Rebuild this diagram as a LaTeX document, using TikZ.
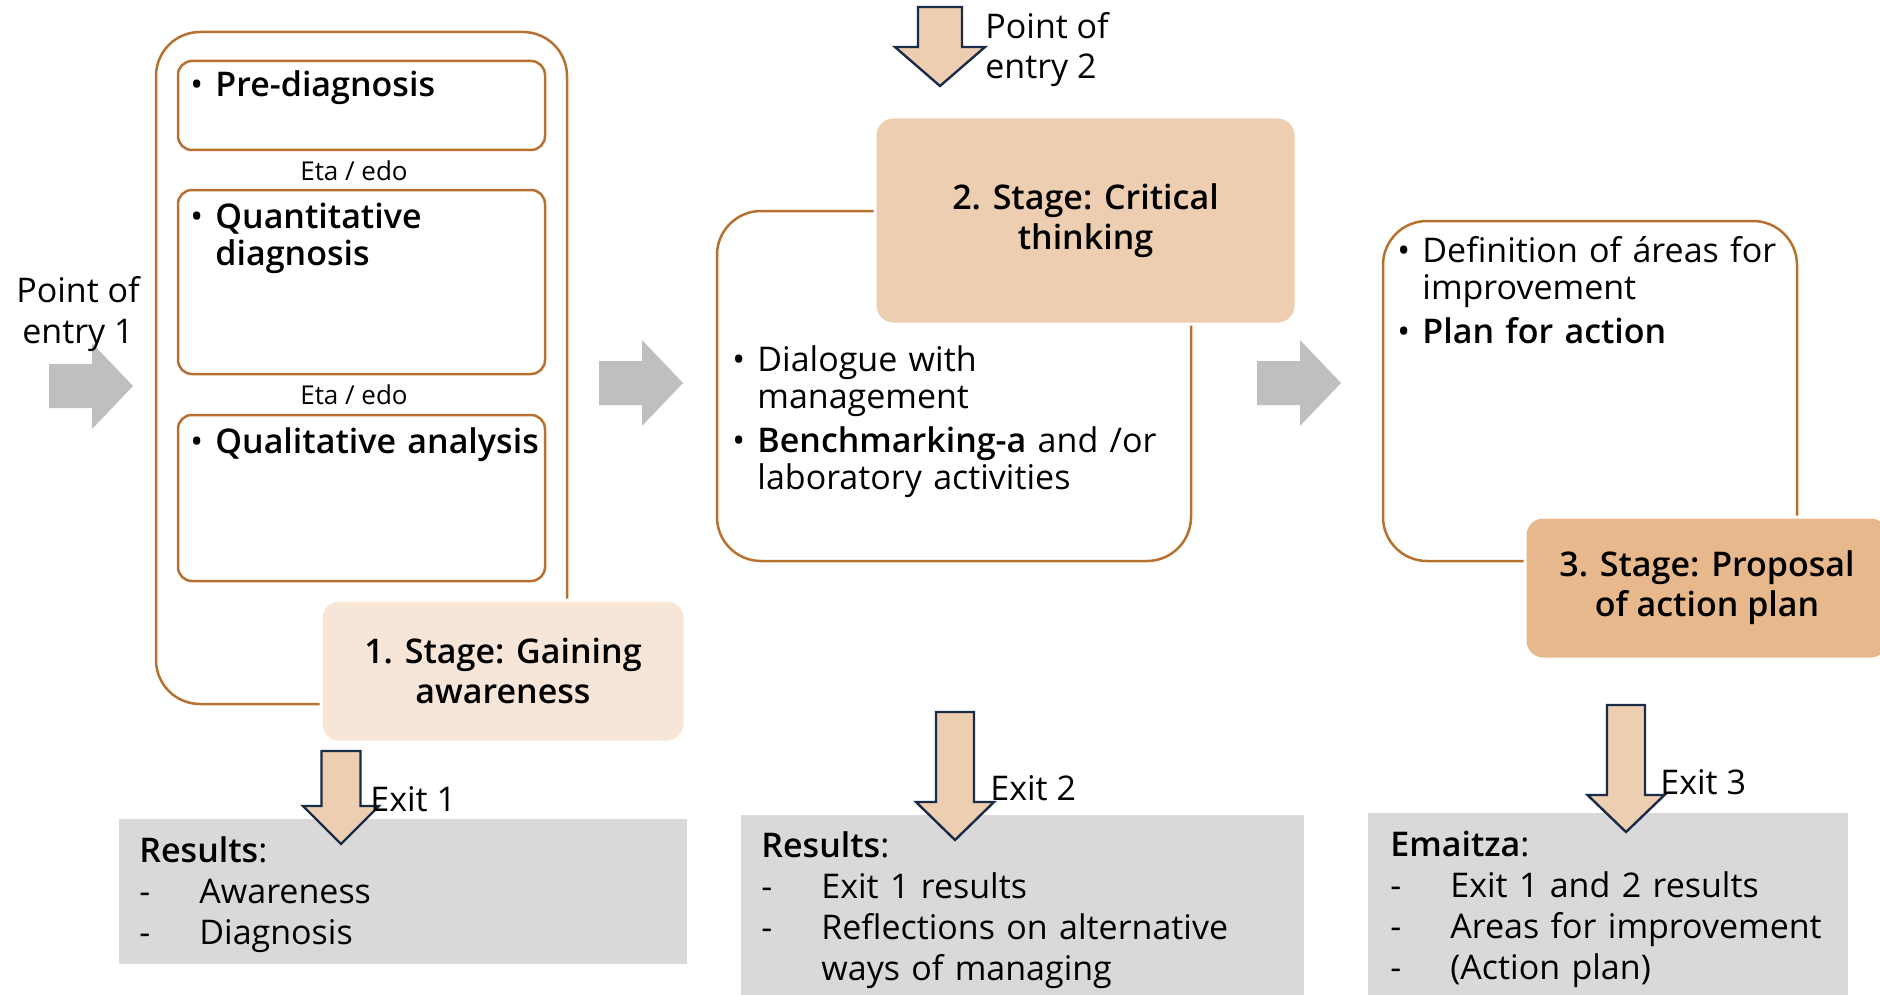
\documentclass[tikz,border=0pt]{standalone}
\usepackage{fontspec}
\IfFontExistsTF{Open Sans SemiBold}{\setmainfont{Open Sans}[BoldFont={Open Sans SemiBold}]}{%
\IfFontExistsTF{Open Sans Semibold}{\setmainfont{Open Sans}[BoldFont={Open Sans Semibold}]}{%
\setmainfont{Open Sans}[BoldFont={Open Sans}, BoldFeatures={FakeBold=1.6}]}}
\usetikzlibrary{positioning}

\definecolor{boxline}{RGB}{182,112,48}
\definecolor{stageA}{RGB}{247,230,216}
\definecolor{stageB}{RGB}{238,206,176}
\definecolor{stageC}{RGB}{230,184,140}
\definecolor{arrowfill}{RGB}{238,206,176}
\definecolor{arrowline}{RGB}{24,44,72}
\definecolor{arrowgray}{RGB}{191,191,191}
\definecolor{resultgray}{RGB}{217,217,217}

\newcommand{\bitem}[1]{\noindent\hangindent=12.5pt\hangafter=1\makebox[12.5pt][l]{\textbullet}#1\par}
\newcommand{\ditem}[1]{\par\noindent\hangindent=30pt\hangafter=1\makebox[30pt][l]{-}#1\par}
% block arrows: \grayarrow{left}{middle}, \downblock{centre}{top}{head}{tip}{shaft}{head width}
\newcommand{\grayarrow}[2]{\fill[arrowgray] (#1,#2-22) -- ++(43,0) -- ++(0,-21) -- (#1+84,#2) -- (#1+43,#2+43) -- ++(0,-21) -- (#1,#2+22) -- cycle;}
\newcommand{\downblock}[6]{\draw[arrowline, fill=arrowfill, line width=1.2pt] (#1-#5,#2) -- (#1+#5,#2) -- (#1+#5,#3) -- (#1+#6,#3) -- (#1,#4) -- (#1-#6,#3) -- (#1-#5,#3) -- cycle;}

\begin{document}
\begin{tikzpicture}[x=0.5pt, y=-0.5pt, font=\fontsize{17}{18.5}\selectfont]
\tikzstyle{outerbox}=[rectangle, draw=boxline, line width=1.25pt, rounded corners=22pt, inner sep=0pt]
\tikzstyle{innerbox}=[rectangle, draw=boxline, line width=1.25pt, rounded corners=7pt, inner sep=0pt, minimum width=183.5pt]
\tikzstyle{stagebox}=[rectangle, draw=white, line width=1.5pt, rounded corners=9pt, align=center, inner sep=0pt, font=\fontsize{17}{20}\selectfont\bfseries]
\tikzstyle{resultbox}=[rectangle, fill=resultgray, inner sep=0pt]
\tikzstyle{itemtext}=[anchor=base west, inner sep=0pt, text width=190pt, align=left]
\tikzstyle{listtext}=[anchor=base west, inner sep=0pt, text width=240pt, align=left, font=\fontsize{17}{20.5}\selectfont]
\tikzstyle{label}=[inner sep=0pt]

\useasboundingbox (0,0) rectangle (1880,995);

\node[outerbox, minimum width=205.5pt, minimum height=336pt] (O1) at (361.5,368) {};
\node[innerbox, minimum height=44.5pt] (I1) at (361.5,105.5) {};
\node[innerbox, minimum height=92pt] (I2) at (361.5,282) {};
\node[innerbox, minimum height=83pt] (I3) at (361.5,498) {};
\node[itemtext] (T1) at (190,97) {\bitem{\bfseries Pre-diagnosis}};
\node[itemtext] (T2) at (190,228) {\bitem{\bfseries Quantitative\newline diagnosis}};
\node[itemtext] (T3) at (190,453) {\bitem{\bfseries Qualitative analysis}};
\node[label, anchor=base, font=\fontsize{13}{15}\selectfont] (E1) at (354,180) {Eta / edo};
\node[label, anchor=base, font=\fontsize{13}{15}\selectfont] (E2) at (354,404) {Eta / edo};
\node[stagebox, fill=stageA, minimum width=182pt, minimum height=71pt] (S1) at (503,671) {1. Stage: Gaining\\awareness};

\node[outerbox, minimum width=237pt, minimum height=175pt] (O2) at (954,386) {};
\node[stagebox, fill=stageB, minimum width=210.5pt, minimum height=103.5pt] (S2) at (1085.5,220.5) {2. Stage: Critical\\thinking};
\node[itemtext, text width=220pt] (T4) at (732,371) {\bitem{Dialogue with\newline management}\vspace{3.5pt}\bitem{\textbf{Benchmarking-a} and /or\newline laboratory activities}};

\node[outerbox, minimum width=207pt, minimum height=170pt] (O3) at (1590,391) {};
\node[stagebox, fill=stageC, minimum width=182pt, minimum height=71pt] (S3) at (1707,588) {3. Stage: Proposal\\of action plan};
\node[itemtext, text width=200pt] (T5) at (1397,262) {\bitem{Definition of áreas for\newline improvement}\vspace{3.5pt}\bitem{\bfseries Plan for action}};

\grayarrow{49}{386}
\grayarrow{599}{383}
\grayarrow{1257}{383}
\node[label, anchor=base, align=center, font=\fontsize{17}{20.5}\selectfont] (P1) at (78,343) {Point of\\entry 1};

\downblock{940}{7}{47}{86}{22}{45}
\node[label, anchor=base west, align=left, font=\fontsize{17}{20}\selectfont] (P2) at (985,79) {Point of\\entry 2};

\node[resultbox, minimum width=284pt, minimum height=72.5pt] (R1) at (403,891.5) {};
\node[resultbox, minimum width=281.5pt, minimum height=92.5pt] (R2) at (1022.5,907.5) {};
\node[resultbox, minimum width=240pt, minimum height=93.5pt] (R3) at (1608,906.5) {};
\node[listtext] (L1) at (139,862) {\noindent\textbf{Results}:\ditem{Awareness}\ditem{Diagnosis}};
\node[listtext] (L2) at (761,857) {\noindent\textbf{Results}:\ditem{Exit 1 results}\ditem{Reflections on alternative\newline ways of managing}};
\node[listtext] (L3) at (1390,856) {\noindent\textbf{Emaitza}:\ditem{Exit 1 and 2 results}\ditem{Areas for improvement}\ditem{(Action plan)}};

\downblock{341}{751}{806}{844}{19.5}{38}
\downblock{955}{712}{802}{840}{19}{39}
\downblock{1626}{705}{795}{832}{19}{38.5}
\node[label, anchor=base west] (X1) at (370,811) {Exit 1};
\node[label, anchor=base west] (X2) at (990,800) {Exit 2};
\node[label, anchor=base west] (X3) at (1660,794) {Exit 3};
\end{tikzpicture}
\end{document}
